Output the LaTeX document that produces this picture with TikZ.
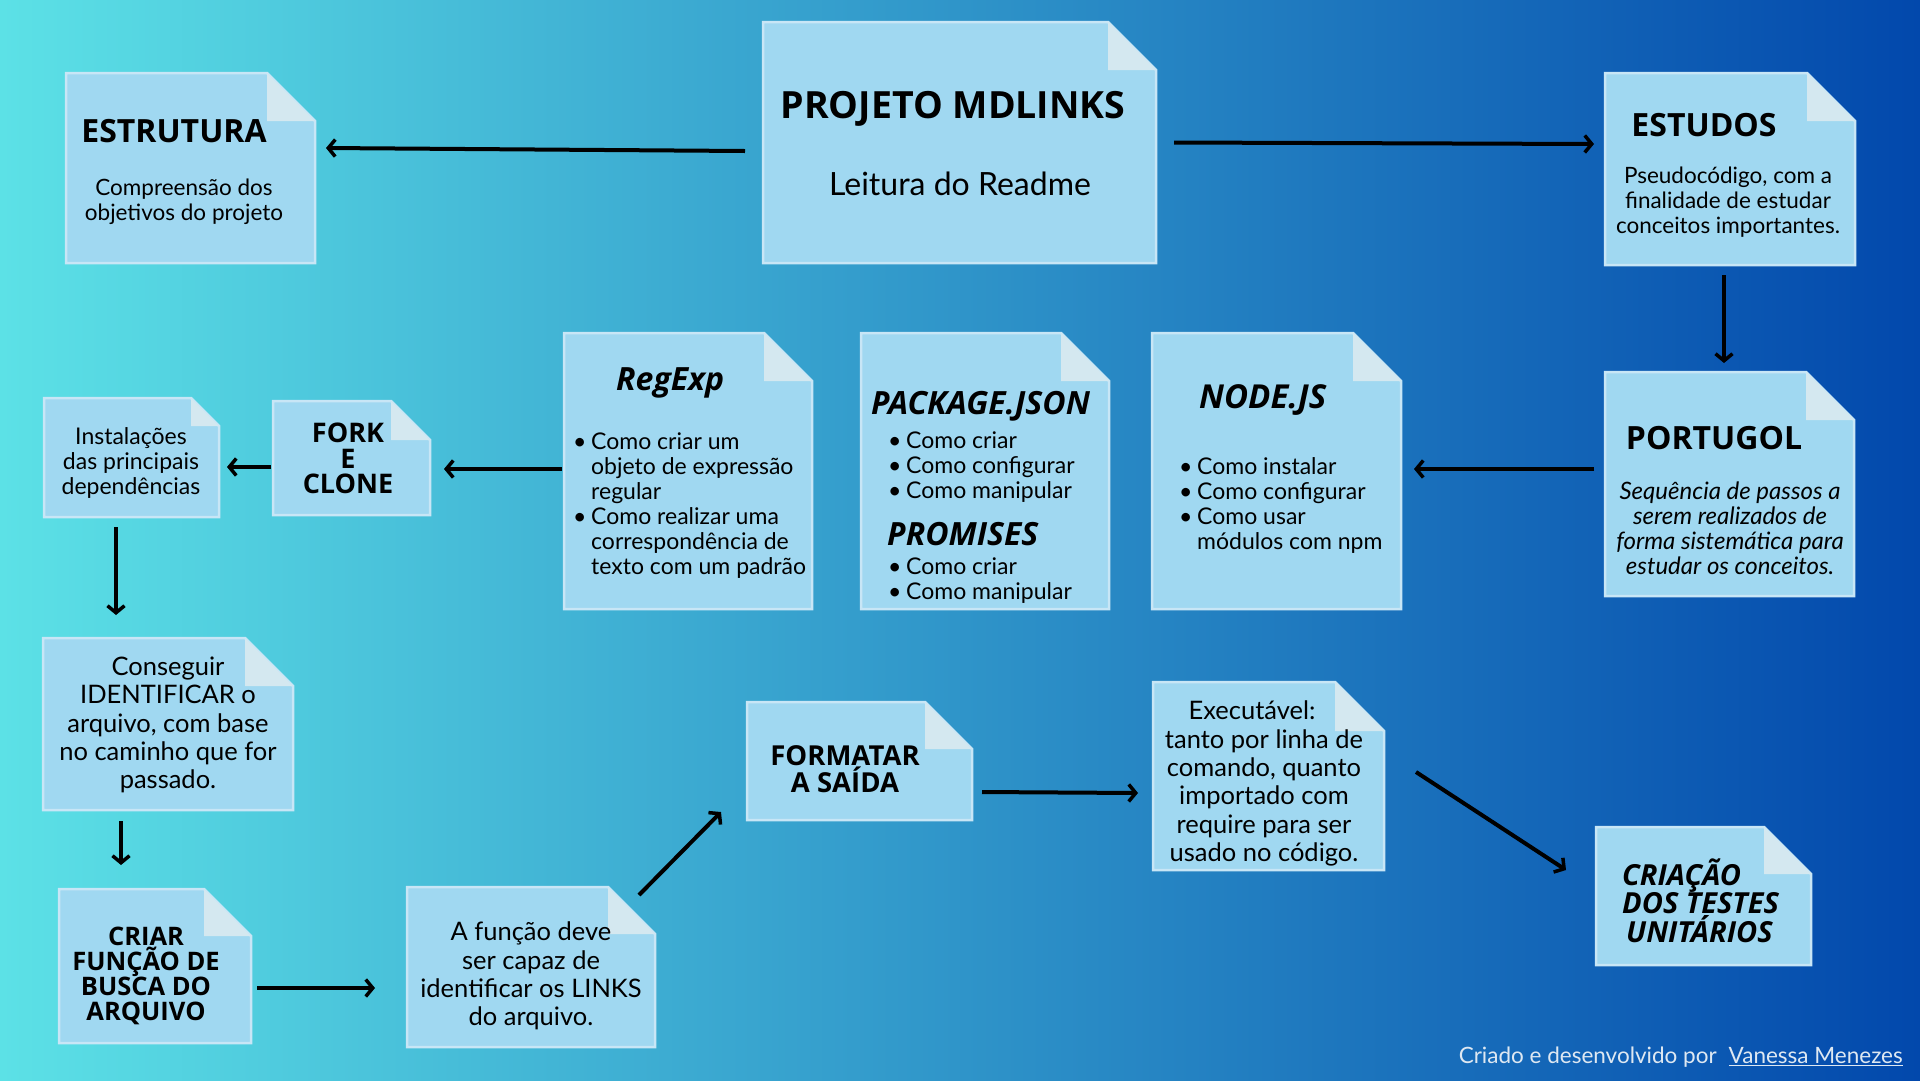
\documentclass[tikz,border=0pt]{standalone}
\usepackage{fontspec}
\setmainfont{Lato}
\newfontfamily\titlefont{Open Sans}
\usetikzlibrary{arrows.meta}

\definecolor{bgleft}{RGB}{92,225,230}
\definecolor{bgright}{RGB}{2,72,172}
\definecolor{docblue}{RGB}{160,216,241}
\definecolor{docedge}{RGB}{200,230,246}
\definecolor{docflap}{RGB}{212,232,240}
\definecolor{footgray}{RGB}{222,232,242}

\newcommand{\itm}{\makebox[18pt][l]{\textbullet}}
\newcommand{\ind}{\hspace*{18pt}}

\begin{document}
\begin{tikzpicture}[x=1pt, y=-1pt,
	box/.style={inner sep=0, outer sep=0},
	docfill/.style={fill=docblue, draw=docedge, line width=2.5pt, line join=miter},
	flap/.style={fill=docflap},
	title/.style={inner sep=0, align=center, font=\titlefont\bfseries\fontsize{32}{34}\selectfont},
	ititle/.style={inner sep=0, align=left, font=\titlefont\bfseries\itshape\fontsize{32}{34}\selectfont},
	body/.style={inner sep=0, align=center, font=\fontsize{23}{25}\selectfont},
	big/.style={inner sep=0, align=center, font=\fontsize{25.5}{28.3}\selectfont},
	arrow/.style={line width=4pt, -{Straight Barb[length=7pt,width=17pt,line width=3.5pt]}}]

	\useasboundingbox (0,0) rectangle (1920,1080);
	\shade[left color=bgleft, right color=bgright] (0,0) rectangle (1920,1080);

	% the boxes
	\node[box, minimum width=249pt, minimum height=190pt] (estrutura) at (190.5,168) {};
	\node[box, minimum width=393pt, minimum height=241pt] (projeto) at (959.5,142.5) {};
	\node[box, minimum width=250pt, minimum height=192pt] (estudos) at (1730,169) {};
	\node[box, minimum width=249pt, minimum height=224pt] (portugol) at (1729.5,484) {};
	\node[box, minimum width=249pt, minimum height=276pt] (nodejs) at (1276.5,471) {};
	\node[box, minimum width=248pt, minimum height=276pt] (package) at (985,471) {};
	\node[box, minimum width=248pt, minimum height=276pt] (regexp) at (688,471) {};
	\node[box, minimum width=157pt, minimum height=114pt] (fork) at (351.5,458) {};
	\node[box, minimum width=175pt, minimum height=119pt] (instal) at (131.5,457.5) {};
	\node[box, minimum width=250pt, minimum height=172pt] (conseguir) at (168,724) {};
	\node[box, minimum width=192pt, minimum height=154pt] (criar) at (155,966) {};
	\node[box, minimum width=248pt, minimum height=160pt] (funcao) at (531,967) {};
	\node[box, minimum width=225pt, minimum height=118pt] (formatar) at (859.5,761) {};
	\node[box, minimum width=231pt, minimum height=188pt] (exec) at (1268.5,776) {};
	\node[box, minimum width=215pt, minimum height=138pt] (criacao) at (1703.5,896) {};

	\foreach \n/\f in {estrutura/48, projeto/48, estudos/48, portugol/48, nodejs/48,
		package/48, regexp/48, fork/39, instal/28, conseguir/48, criar/47, funcao/47,
		formatar/47, exec/49, criacao/47}{
		\draw[docfill] (\n.south west) -- (\n.north west) -- ([xshift=-\f pt]\n.north east)
			-- ([yshift=-\f pt]\n.north east) -- (\n.south east) -- cycle;
		\fill[flap] ([xshift=-\f pt]\n.north east) -- ([xshift=-\f pt,yshift=-\f pt]\n.north east)
			-- ([yshift=-\f pt]\n.north east) -- cycle;
	}

	% texts
	\node[title] (estrutura-t) at (174,131) {ESTRUTURA};
	\node[body, font=\fontsize{22.5}{25}\selectfont] (estrutura-b) at (184,201.5) {Compreensão dos\\objetivos do projeto};

	\node[title, font=\titlefont\bfseries\fontsize{37.5}{40}\selectfont] (projeto-t) at (953,109) {PROJETO MDLINKS};
	\node[body, font=\fontsize{32}{34}\selectfont] (projeto-b) at (960,184) {Leitura do Readme};

	\node[title] (estudos-t) at (1704,125) {ESTUDOS};
	\node[body, font=\fontsize{22.5}{25}\selectfont] (estudos-b) at (1728,202) {Pseudocódigo, com a\\finalidade de estudar\\conceitos importantes.};

	\node[title] (portugol-t) at (1714,438) {PORTUGOL};
	\node[body, font=\itshape\fontsize{24}{25}\selectfont] (portugol-b) at (1730,528.5)
		{Sequência de passos a\\serem realizados de\\forma sistemática para\\estudar os conceitos.};

	\node[ititle, anchor=west, font=\titlefont\bfseries\itshape\fontsize{33}{34}\selectfont] (nodejs-t) at (1199,400) {NODE.JS};
	\node[body, align=left, anchor=west] (nodejs-b) at (1179,505.5)
		{\itm Como instalar\\\itm Como configurar\\\itm Como usar\\\ind módulos com npm};

	\node[ititle, anchor=west] (package-t) at (871,406) {PACKAGE.JSON};
	\node[body, align=left, anchor=west] (package-b) at (888,467)
		{\itm Como criar\\\itm Como configurar\\\itm Como manipular};
	\node[ititle, anchor=west] (promises-t) at (887,534) {PROMISES};
	\node[body, align=left, anchor=west] (promises-b) at (888,580.5)
		{\itm Como criar\\\itm Como manipular};

	\node[ititle, anchor=west] (regexp-t) at (616,383) {RegExp};
	\node[body, align=left, anchor=west] (regexp-b) at (573,506)
		{\itm Como criar um\\\ind objeto de expressão\\\ind regular\\\itm Como realizar uma\\\ind correspondência de\\\ind texto com um padrão};

	\node[title, font=\titlefont\bfseries\fontsize{27}{25.5}\selectfont] (fork-t) at (348,458.5) {FORK\\E\\CLONE};
	\node[body] (instal-b) at (131,463) {Instalações\\das principais\\dependências};

	\node[big] (conseguir-b) at (168,725) {Conseguir\\IDENTIFICAR o\\arquivo, com base\\no caminho que for\\passado.};
	\node[title, font=\titlefont\bfseries\fontsize{25.5}{25}\selectfont] (criar-t) at (146,975.5) {CRIAR\\FUNÇÃO DE\\BUSCA DO\\ARQUIVO};
	\node[big] (funcao-b) at (531,976) {A função deve\\ser capaz de\\identificar os LINKS\\do arquivo.};
	\node[title, font=\titlefont\bfseries\fontsize{27.5}{25}\selectfont] (formatar-t) at (845,769.5) {FORMATAR\\A SAÍDA};
	\node[big] (exec-b) at (1264,783.5) {Executável:\hspace*{24pt}\\tanto por linha de\\comando, quanto\\importado com\\require para ser\\usado no código.};
	\node[ititle, anchor=west, font=\titlefont\bfseries\itshape\fontsize{29}{28.5}\selectfont] (criacao-t) at (1622,900.5)
		{CRIAÇÃO\\DOS TESTES\\\hspace*{4pt}UNITÁRIOS};

	\node[inner sep=0, anchor=east, text=footgray, font=\fontsize{22.5}{24}\selectfont] (rodape) at (1903,1057)
		{Criado e desenvolvido por\hspace{12pt}\underline{Vanessa Menezes}};

	% connectors
	\draw[arrow] ([xshift=-18pt,yshift=-8.5pt]projeto.west) -- ([xshift=11pt,yshift=20pt]estrutura.east);
	\draw[arrow] ([xshift=18pt]projeto.east) -- ([xshift=-11pt,yshift=25pt]estudos.west);
	\draw[arrow] ([xshift=-6pt,yshift=-10pt]estudos.south) -- ([xshift=-5.5pt,yshift=9pt]portugol.north);
	\draw[arrow] ([xshift=-11pt,yshift=15pt]portugol.west) -- ([xshift=13pt,yshift=2pt]nodejs.east);
	\draw[arrow] ([xshift=-2pt,yshift=2pt]regexp.west) -- ([xshift=14pt,yshift=-11pt]fork.east);
	\draw[arrow] ([xshift=-2pt,yshift=-9pt]fork.west) -- ([xshift=8pt,yshift=-9.5pt]instal.east);
	\draw[arrow] ([xshift=-15.5pt,yshift=-10pt]instal.south) -- ([xshift=-52pt,yshift=23pt]conseguir.north);
	\draw[arrow] ([xshift=-47pt,yshift=-11pt]conseguir.south) -- ([xshift=-34pt,yshift=24pt]criar.north);
	\draw[arrow] ([xshift=6pt,yshift=-22pt]criar.east) -- ([xshift=-32pt,yshift=-21pt]funcao.west);
	\draw[arrow] ([xshift=-16pt,yshift=-8pt]funcao.north east) -- ([xshift=-26pt,yshift=8pt]formatar.south west);
	\draw[arrow] ([xshift=10pt,yshift=-31pt]formatar.east) -- ([xshift=-15pt,yshift=-17pt]exec.west);
	\draw[arrow] ([xshift=32pt,yshift=4pt]exec.east) -- ([xshift=-30pt,yshift=26pt]criacao.west);
\end{tikzpicture}
\end{document}
